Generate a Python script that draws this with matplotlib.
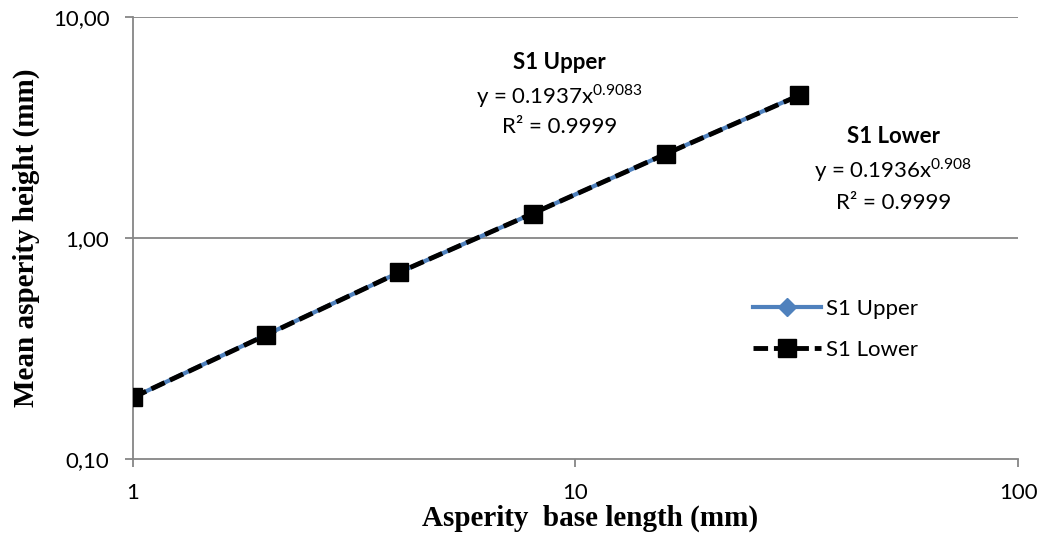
import matplotlib
matplotlib.use("Agg")
import matplotlib.pyplot as plt
from matplotlib.ticker import FixedLocator, NullLocator

# values
base_length = [1, 2, 4, 8, 16, 32]
s1_upper = [0.19, 0.365, 0.70, 1.29, 2.40, 4.42]
s1_lower = [0.19, 0.364, 0.70, 1.29, 2.40, 4.41]
x_ticks = [1, 10, 100]
x_tick_labels = ["1", "10", "100"]
y_ticks = [0.1, 1, 10]
y_tick_labels = ["0,10", "1,00", "10,00"]

grey = "#868686"
blue = "#4F81BD"
sans = "Lato"
serif = "Liberation Serif"

plt.rcParams["mathtext.fontset"] = "custom"
plt.rcParams["mathtext.rm"] = sans

fig = plt.figure(figsize=(10.42, 5.44), dpi=100)
ax = fig.add_axes([0.1276, 0.156, 0.8494, 0.813])

ax.set_xscale("log")
ax.set_yscale("log")
ax.set_xlim(1, 100)
ax.set_ylim(0.1, 10)

# gridlines at the decades
for yv in y_ticks[1:]:
    ax.axhline(yv, color=grey, lw=1.3, zorder=0)

ax.plot(base_length, s1_upper, color=blue, lw=3, marker="D", markersize=9,
        label="S1 Upper", zorder=2)
ax.plot(base_length, s1_lower, color="black", lw=3.5, ls=(0, (3, 1.2)), marker="s",
        markersize=13, label="S1 Lower", zorder=3)

for s in ["top", "right"]:
    ax.spines[s].set_visible(False)
for s in ["left", "bottom"]:
    ax.spines[s].set_color(grey)
    ax.spines[s].set_linewidth(1.3)

ax.xaxis.set_major_locator(FixedLocator(x_ticks))
ax.xaxis.set_minor_locator(NullLocator())
ax.yaxis.set_major_locator(FixedLocator(y_ticks))
ax.yaxis.set_minor_locator(NullLocator())
ax.set_xticklabels(x_tick_labels, fontfamily=sans, fontsize=16)
ax.set_yticklabels(y_tick_labels, fontfamily=sans, fontsize=16)
ax.tick_params(axis="both", color=grey, width=1.3, length=6)
ax.tick_params(axis="x", pad=11)
ax.tick_params(axis="y", pad=11)

ax.set_xlabel("Asperity  base length (mm)", fontfamily=serif, fontweight="bold",
              fontsize=21)
ax.set_ylabel("Mean asperity height (mm)", fontfamily=serif, fontweight="bold",
              fontsize=21)
ax.xaxis.set_label_coords(0.516, -0.102)
ax.yaxis.set_label_coords(-0.105, 0.5)

# trendline labels
ax.text(0.482, 0.896, "S1 Upper", transform=ax.transAxes, ha="center", va="center",
        fontfamily=sans, fontweight="bold", fontsize=16)
ax.text(0.482, 0.822, "y = 0.1937x$^{0.9083}$", transform=ax.transAxes, ha="center",
        va="center", fontfamily=sans, fontsize=16)
ax.text(0.482, 0.751, "R² = 0.9999", transform=ax.transAxes, ha="center", va="center",
        fontfamily=sans, fontsize=16)

ax.text(0.859, 0.729, "S1 Lower", transform=ax.transAxes, ha="center", va="center",
        fontfamily=sans, fontweight="bold", fontsize=16)
ax.text(0.859, 0.654, "y = 0.1936x$^{0.908}$", transform=ax.transAxes, ha="center",
        va="center", fontfamily=sans, fontsize=16)
ax.text(0.859, 0.579, "R² = 0.9999", transform=ax.transAxes, ha="center", va="center",
        fontfamily=sans, fontsize=16)

ax.legend(loc="center left", bbox_to_anchor=(0.70, 0.294), frameon=False,
          prop={"family": sans, "size": 16}, handlelength=3.1, handletextpad=0.2,
          labelspacing=0.95, borderaxespad=0, borderpad=0)

fig.savefig("out.png", dpi=100)
